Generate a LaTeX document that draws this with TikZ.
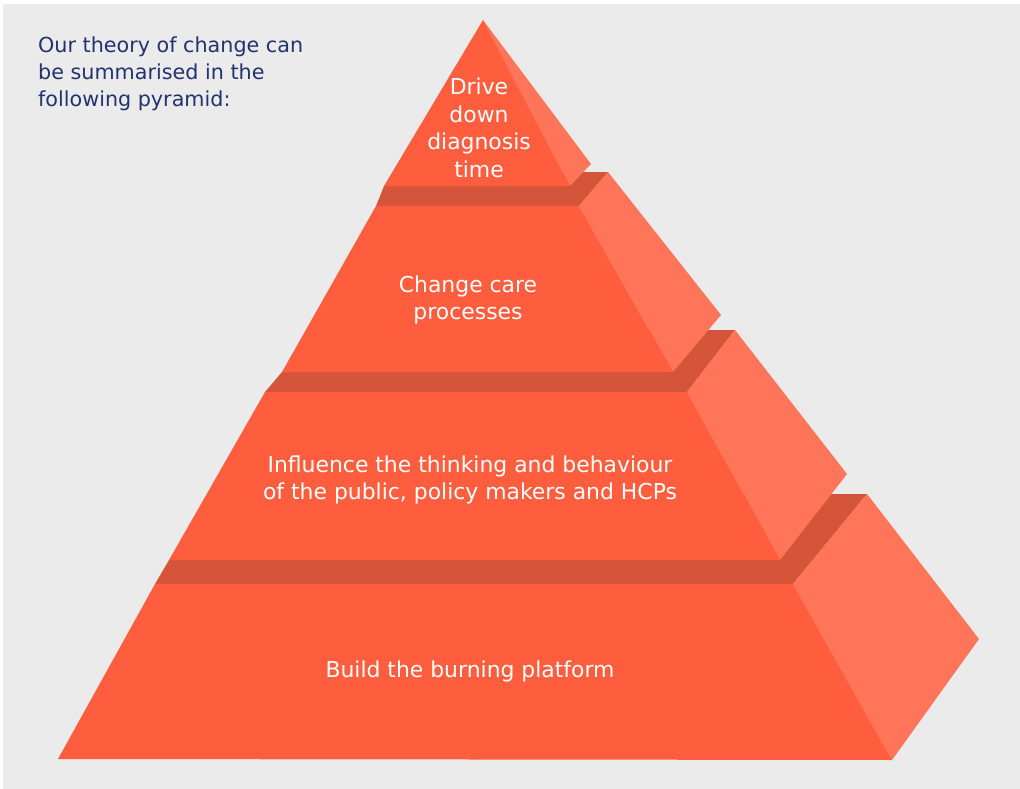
\documentclass[tikz,border=0pt]{standalone}
\usepackage{fontspec}
\setmainfont{DejaVu Sans}
\definecolor{bg}{HTML}{EBEBEB}
\definecolor{frontc}{HTML}{FE5D3E}
\definecolor{sidec}{HTML}{FE755A}
\definecolor{ledgec}{HTML}{D4553A}
\definecolor{navy}{HTML}{22336F}
\begin{document}
\begin{tikzpicture}[x=1pt,y=-1pt,
  frontface/.style={fill=frontc},
  sideface/.style={fill=sidec},
  topface/.style={fill=ledgec},
  tiertext/.style={text=white,align=center,inner sep=0pt,font=\fontsize{21.9}{27.5}\selectfont},
  headtext/.style={text=navy,align=left,inner sep=0pt,font=\fontsize{20.7}{27}\selectfont}]
\fill[white] (0,0) rectangle (1020,789);
\useasboundingbox (0,0) rectangle (1020,789);
\fill[bg] (3,4) rectangle (1020,789);
% tier 4 (bottom)
\fill[topface] (155,584) -- (793,584) -- (867,494) -- (500,494) -- (169,560) -- cycle;
\fill[sideface] (793,584) -- (867,494) -- (979,639) -- (892,760) -- cycle;
\fill[frontface] (155,584) -- (793,584) -- (892,760) -- (58,759) -- cycle;
% tier 3
\fill[topface] (265,392) -- (687,392) -- (735,330) -- (450,330) -- (282,372) -- cycle;
\fill[sideface] (687,392) -- (735,330) -- (847,474) -- (780,560) -- cycle;
\fill[frontface] (265,392) -- (687,392) -- (780,560) -- (169,560) -- cycle;
% tier 2
\fill[topface] (376,206) -- (579,206) -- (608,172) -- (470,172) -- (384,186) -- cycle;
\fill[sideface] (579,206) -- (608,172) -- (721,315) -- (673,372) -- cycle;
\fill[frontface] (376,206) -- (579,206) -- (673,372) -- (282,372) -- cycle;
% tier 1 (top)
\fill[sideface] (483,20) -- (591,164) -- (570,186) -- cycle;
\fill[frontface] (483,20) -- (570,186) -- (384,186) -- cycle;
% texts
\node[headtext,anchor=west] (head) at (38,74) {Our theory of change can\\be summarised in the\\following pyramid:};
\node[tiertext] (t1) at (479,128) {Drive\\down\\diagnosis\\time};
\node[tiertext] (t2) at (468,300) {Change care\\processes};
\node[tiertext] (t3) at (470,480) {Influence the thinking and behaviour\\of the public, policy makers and HCPs};
\node[tiertext] (t4) at (470,671) {Build the burning platform};
\end{tikzpicture}
\end{document}
